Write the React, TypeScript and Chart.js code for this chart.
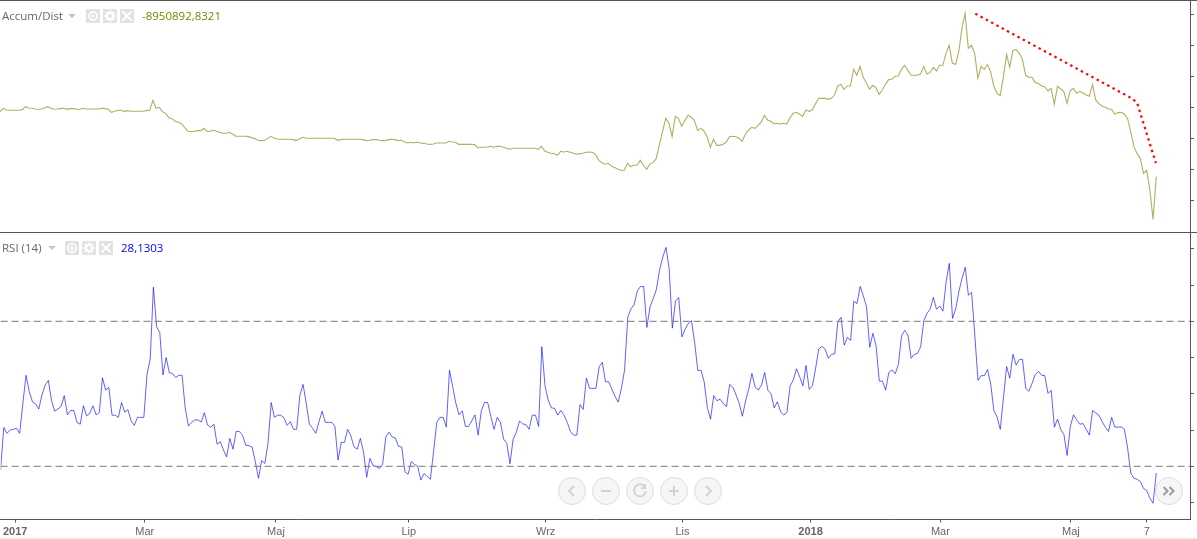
import React, { useEffect, useRef } from "react";
import { Chart, registerables } from "chart.js";

Chart.register(...registerables);

// Accumulation/Distribution, in millions
const accumDist = [
  -0.54,-0.11,-0.33,-0.37,-0.37,-0.37,-0.37,-0.28,0.10,-0.07,
  -0.11,-0.20,-0.24,-0.20,-0.07,0.10,-0.11,-0.24,-0.20,-0.15,
  -0.11,-0.24,-0.15,-0.15,-0.24,-0.24,-0.11,-0.20,-0.20,-0.20,
  -0.20,-0.20,-0.11,-0.15,-0.24,-0.63,-0.50,-0.37,-0.37,-0.50,
  -0.41,-0.50,-0.50,-0.50,-0.50,-0.50,-0.41,-0.37,0.92,-0.11,
  0.02,-0.54,-0.76,-1.32,-1.45,-1.79,-1.92,-2.14,-2.61,-3.08,
  -3.13,-3.08,-3.00,-3.00,-2.70,-3.08,-3.08,-2.96,-3.08,-3.21,
  -3.34,-3.34,-3.21,-3.43,-3.73,-3.73,-3.73,-3.73,-3.77,-3.90,
  -4.03,-4.25,-4.29,-4.25,-4.03,-3.73,-3.95,-4.08,-4.12,-4.12,
  -4.12,-4.12,-4.16,-4.29,-4.08,-3.86,-3.95,-3.99,-3.99,-3.99,
  -3.99,-3.99,-3.99,-3.99,-3.99,-3.99,-4.25,-4.16,-4.12,-4.12,
  -4.12,-4.12,-4.12,-4.12,-4.16,-4.29,-4.25,-4.16,-4.16,-4.25,
  -4.29,-4.29,-4.16,-4.12,-4.16,-4.29,
  -4.25,-4.47,-4.60,-4.51,-4.60,-4.47,-4.60,-4.64,-4.72,-4.77,
  -4.72,-4.60,-4.60,-4.60,-4.60,-4.38,-4.47,-4.51,-4.77,-4.77,
  -4.77,-4.77,-4.77,-4.81,-5.24,-5.15,-5.15,-5.11,-5.03,-5.15,
  -5.03,-5.03,-5.15,-5.28,-5.41,-5.28,-5.28,-5.28,-5.28,-5.28,
  -5.28,-5.28,-5.28,-5.41,-5.03,-5.63,-5.80,-5.93,-5.97,-6.19,
  -5.67,-5.76,-5.67,-5.80,-5.93,-6.06,-5.97,-5.93,-5.80,-5.76,
  -5.80,-6.10,-6.84,-7.14,-7.35,-7.22,-7.61,-7.78,-8.00,-8.13,
  -8.13,-7.22,-7.65,-7.48,-7.48,-6.84,-7.48,-8.00,-7.35,-7.14,
  -6.62,-4.85,-3.13,-1.41,-2.01,-3.78,-1.15,-1.41,-2.44,-1.71,
  -1.02,-1.27,-1.66,-2.96,-2.70,-3.04,-3.78,-5.15,-4.12,-4.90,
  -4.90,-4.77,-4.51,-3.78,-3.73,-3.78,-3.99,-4.38,-3.47,-2.91,
  -2.57,-2.70,-2.31,-1.88,-1.02,-1.62,-1.79,-2.14,-2.05,-2.14,
  -2.05,-2.14,-1.36,-0.76,-0.63,
  -0.89,-1.15,-0.33,-0.50,-0.33,0.45,1.18,1.18,1.18,1.05,
  1.18,1.61,2.78,2.99,2.35,2.78,2.78,4.93,4.16,5.32,
  3.90,3.21,2.35,2.86,2.56,1.70,2.26,2.99,3.60,3.64,
  4.03,4.07,4.93,5.45,4.80,4.16,4.16,4.16,4.33,5.32,
  4.33,4.50,5.19,4.72,5.45,5.45,7.00,8.04,5.71,5.58,
  7.22,10.23,12.17,7.65,8.04,7.00,3.77,5.32,4.93,5.58,
  4.63,2.78,1.83,1.53,3.90,6.87,5.19,7.35,7.52,7.00,
  6.23,4.16,3.90,3.90,3.21,3.12,2.78,2.69,2.13,2.48,
  0.41,2.73,2.39,2.05,0.54,2.17,2.48,1.83,2.09,1.87,
  1.61,1.44,2.99,0.97,0.49,0.15,0.02,-0.20,-0.24,-0.89,
  -0.67,-0.63,-0.84,-1.45,-3.13,-5.07,-5.97,-6.58,-8.52,-8.13,
  -10.67,-14.50,-8.95,
];

const rsi14 = [
  29.0,40.7,39.1,40.0,40.2,40.5,39.1,47.4,55.1,50.6,
  47.8,47.2,45.8,49.7,52.4,53.7,48.1,45.2,45.8,46.5,
  49.5,44.2,45.4,45.4,42.1,41.6,46.7,43.9,44.6,46.7,
  44.2,44.8,54.4,51.0,51.8,44.1,44.1,43.5,47.6,44.9,
  45.6,42.5,41.3,43.5,43.5,43.5,55.4,59.6,79.4,68.5,
  66.9,55.2,60.0,55.8,55.6,54.5,55.1,55.1,46.0,41.1,
  42.1,42.8,42.8,42.2,44.8,41.4,40.8,41.6,36.1,36.8,
  34.5,32.6,37.7,34.7,39.6,39.6,38.6,35.8,35.7,35.3,
  31.3,26.7,31.6,30.8,36.3,47.6,43.5,44.1,44.1,43.4,
  41.3,42.3,40.2,40.2,49.5,52.6,47.4,41.6,40.5,39.1,
  42.3,45.2,42.1,42.1,42.1,41.1,31.7,36.6,36.6,40.2,
  38.4,35.4,34.7,37.7,34.0,27.0,32.2,30.2,29.9,29.4,
  30.5,38.1,39.4,38.1,37.8,35.5,
  35.3,28.5,27.8,31.3,30.5,30.0,26.2,28.0,27.2,26.4,
  34.0,42.1,43.5,43.5,40.8,56.5,52.0,47.4,44.2,45.3,
  41.0,41.0,42.5,44.2,38.6,45.3,47.6,47.6,43.7,40.2,
  43.5,42.1,37.5,36.3,30.7,37.5,39.4,42.5,41.7,41.5,
  40.2,44.1,44.1,41.0,63.0,52.2,48.3,46.1,46.0,44.1,
  45.4,44.1,42.1,39.6,38.6,38.6,47.0,45.7,54.3,51.5,
  51.5,51.5,57.4,58.7,53.3,53.3,51.3,49.3,47.7,51.5,
  56.6,71.1,73.4,74.6,78.4,79.6,79.6,68.3,74.0,76.3,
  78.8,84.2,87.7,90.4,84.6,68.1,75.6,76.6,65.7,67.8,
  69.4,70.2,64.2,56.4,56.5,53.3,46.2,43.0,49.5,48.1,
  48.5,47.4,46.4,52.6,51.8,49.7,47.4,43.8,48.0,51.3,
  55.6,51.9,51.0,52.4,55.9,51.0,50.0,46.1,47.8,45.1,
  44.1,44.9,52.2,53.8,56.9,
  54.7,52.2,57.8,51.2,52.2,57.0,62.4,63.1,62.3,59.8,
  60.9,61.0,69.9,71.1,63.4,65.6,64.7,75.5,74.9,79.6,
  77.0,74.0,62.8,66.7,63.2,53.5,53.5,51.0,55.9,56.6,
  55.5,58.1,66.0,67.5,66.2,59.8,60.9,61.1,63.0,70.2,
  72.2,73.4,76.6,73.3,74.2,72.8,80.9,86.0,70.8,73.4,
  78.2,81.9,84.9,77.2,78.0,66.2,53.7,55.0,55.0,56.7,
  52.7,45.4,43.6,40.2,48.8,57.5,54.3,60.9,57.9,59.5,
  59.5,51.5,50.7,52.9,55.3,56.2,55.1,55.0,50.1,51.0,
  40.8,43.0,40.2,38.8,33.0,40.9,44.2,42.8,41.6,41.8,
  40.2,38.6,45.4,44.7,44.1,42.3,40.8,39.6,43.5,40.8,
  40.8,40.9,40.2,35.0,28.1,26.7,26.4,25.8,23.9,23.3,
  21.2,19.8,28.13,
];

// Hand-drawn dotted trend line on the Accum/Dist pane (session index, millions)
const trendIndex = [306.2, 355.4, 357.0, 362.9];
const trendValue = [12.13, 1.16, 0.58, -7.2];

// RSI overbought / oversold levels
const rsiLevels = [70, 30];

// Month ticks on the time axis (session index, label)
const monthTickIndex = [4.6, 45.3, 86.5, 128.2, 171.2, 214.2, 254.4, 295.2, 336.2, 360.0];
const monthTickLabels = ["2017", "Mar", "Maj", "Lip", "Wrz", "Lis", "2018", "Mar", "Maj", "7"];

const adTicks = [12, 8, 4, 0, -4, -8, -12];
const rsiTicks = [90, 80, 70, 60, 50, 40, 30, 20];

const AXIS = "#555555";
const X_MAX = 373.6;

function points(values: number[]) {
  return values.map((v, i) => ({ x: i, y: v }));
}

function yAxis(min: number, max: number, tickValues: number[]) {
  return {
    position: "right" as const,
    min,
    max,
    border: { display: true, color: AXIS, width: 1 },
    grid: { display: true, drawOnChartArea: false, drawTicks: true, tickLength: 4, color: AXIS },
    ticks: { display: false },
    afterBuildTicks: (s: any) => {
      s.ticks = tickValues.map((value) => ({ value }));
    },
    afterFit: (s: any) => {
      s.width = 7;
    },
  };
}

function baseOptions(scales: any) {
  return {
    responsive: false,
    animation: false as const,
    devicePixelRatio: 1,
    events: [] as any[],
    layout: { padding: 0, autoPadding: false },
    plugins: { legend: { display: false }, tooltip: { enabled: false }, title: { display: false } },
    elements: { point: { radius: 0 }, line: { tension: 0 } },
    scales,
  };
}

function AccumPane() {
  const ref = useRef<HTMLCanvasElement>(null);
  useEffect(() => {
    const chart = new Chart(ref.current!, {
      type: "line",
      data: {
        datasets: [
          {
            data: points(accumDist),
            borderColor: "rgba(128,128,0,0.62)",
            borderWidth: 1.1,
            pointRadius: 0,
          },
          {
            data: trendIndex.map((x, i) => ({ x, y: trendValue[i] })),
            borderColor: "#ff0000",
            borderWidth: 2.2,
            borderDash: [2.4, 3.6],
            pointRadius: 0,
          },
        ],
      },
      options: baseOptions({
        x: { type: "linear", display: false, min: 0, max: X_MAX },
        y: yAxis(-16.11, 13.9, adTicks),
      }) as any,
    });
    return () => chart.destroy();
  }, []);
  return (
    <canvas
      ref={ref}
      width={1197}
      height={232}
      style={{ position: "absolute", left: 0, top: 0, width: 1197, height: 232 }}
    />
  );
}

function RsiPane() {
  const ref = useRef<HTMLCanvasElement>(null);
  useEffect(() => {
    const chart = new Chart(ref.current!, {
      type: "line",
      data: {
        datasets: [
          ...rsiLevels.map((level) => ({
            data: [
              { x: 0, y: level },
              { x: X_MAX, y: level },
            ],
            borderColor: "#777777",
            borderWidth: 1,
            borderDash: [7, 4],
            pointRadius: 0,
          })),
          {
            data: points(rsi14),
            borderColor: "rgba(0,0,255,0.62)",
            borderWidth: 1,
            pointRadius: 0,
          },
        ],
      },
      options: baseOptions({
        x: {
          type: "linear",
          min: 0,
          max: X_MAX,
          border: { display: true, color: AXIS, width: 1 },
          grid: { display: true, drawOnChartArea: false, drawTicks: true, tickLength: 3, color: AXIS },
          ticks: {
            autoSkip: false,
            maxRotation: 0,
            minRotation: 0,
            padding: 3,
            color: "#666666",
            font: (c: any) => {
              const bold = c.tick && /^\d{4}$/.test(String(c.tick.label));
              return { family: "'Liberation Sans', Arial, sans-serif", size: 11, weight: bold ? "bold" : "normal" };
            },
          },
          afterBuildTicks: (s: any) => {
            s.ticks = monthTickIndex.map((value, i) => ({ value, label: monthTickLabels[i] }));
          },
          afterTickToLabelConversion: (s: any) => {
            s.ticks.forEach((t: any, i: number) => {
              t.label = monthTickLabels[i];
            });
          },
          afterFit: (s: any) => {
            s.height = 17.5;
          },
        },
        y: yAxis(15.32, 94.36, rsiTicks),
      }) as any,
    });
    return () => chart.destroy();
  }, []);
  return (
    <canvas
      ref={ref}
      width={1197}
      height={304}
      style={{ position: "absolute", left: 0, top: 233, width: 1197, height: 304 }}
    />
  );
}

function IconBox({ x, y, kind }: { x: number; y: number; kind: "eye" | "gear" | "close" }) {
  return (
    <svg
      width={14}
      height={14}
      viewBox="0 0 14 14"
      style={{ position: "absolute", left: x, top: y, background: "#e2e2e2" }}
    >
      {kind === "eye" && (
        <>
          <circle cx={7} cy={7} r={4} fill="none" stroke="#fff" strokeWidth={1.6} />
          <circle cx={7} cy={7} r={1.5} fill="#fff" />
        </>
      )}
      {kind === "gear" && (
        <>
          <circle cx={7} cy={7} r={3} fill="none" stroke="#fff" strokeWidth={2} />
          <path
            d="M7 1.5V3.5M7 10.5V12.5M1.5 7H3.5M10.5 7H12.5M3.1 3.1L4.5 4.5M9.5 9.5L10.9 10.9M3.1 10.9L4.5 9.5M9.5 4.5L10.9 3.1"
            stroke="#fff"
            strokeWidth={1.8}
          />
        </>
      )}
      {kind === "close" && <path d="M2.5 2.5L11.5 11.5M11.5 2.5L2.5 11.5" stroke="#fff" strokeWidth={1.8} />}
    </svg>
  );
}

function Caret({ x, y }: { x: number; y: number }) {
  return (
    <svg width={8} height={4} style={{ position: "absolute", left: x, top: y }}>
      <path d="M0 0H8L4 4Z" fill="#c4c4c4" />
    </svg>
  );
}

const FONT = "'Open Sans', 'Noto Sans', sans-serif";

function Label({ x, y, color, text }: { x: number; y: number; color: string; text: string }) {
  return (
    <div
      style={{
        position: "absolute",
        left: x,
        top: y,
        color,
        font: `11.5px/16px ${FONT}`,
        whiteSpace: "nowrap",
      }}
    >
      {text}
    </div>
  );
}

function NavButton({ cx, glyph }: { cx: number; glyph: string }) {
  const dark = glyph === "next";
  return (
    <svg width={30} height={30} viewBox="0 0 30 30" style={{ position: "absolute", left: cx - 15, top: 476 }}>
      <circle cx={15} cy={15} r={13.5} fill="#f6f6f6" stroke="#dcdcdc" />
      {glyph === "left" && <path d="M17 10L12 15L17 20" fill="none" stroke="#d4d4d4" strokeWidth={2} />}
      {glyph === "right" && <path d="M13 10L18 15L13 20" fill="none" stroke="#d4d4d4" strokeWidth={2} />}
      {glyph === "minus" && <path d="M10 15H20" stroke="#d4d4d4" strokeWidth={2} />}
      {glyph === "plus" && <path d="M10 15H20M15 10V20" stroke="#d4d4d4" strokeWidth={2} />}
      {glyph === "reset" && (
        <path d="M20 11A6 6 0 1 0 21 15M20 8V12H16" fill="none" stroke="#d4d4d4" strokeWidth={2} />
      )}
      {dark && (
        <path d="M9.5 11L13.5 15L9.5 19M15.5 11L19.5 15L15.5 19" fill="none" stroke="#a0a0a0" strokeWidth={2.2} />
      )}
    </svg>
  );
}

export default function App() {
  return (
    <div
      style={{
        position: "absolute",
        left: 0,
        top: 0,
        width: 1197,
        height: 539,
        background: "#ffffff",
        overflow: "hidden",
      }}
    >
      <AccumPane />
      <RsiPane />
      <div style={{ position: "absolute", left: 0, top: 0, width: 1197, height: 1, background: AXIS }} />
      <div style={{ position: "absolute", left: 0, top: 232, width: 1197, height: 1, background: AXIS }} />
      <div style={{ position: "absolute", left: 0, top: 537, width: 1197, height: 2, background: "#f3f3f3" }} />

      <Label x={2} y={8} color="#666666" text="Accum/Dist" />
      <Caret x={68} y={14} />
      <IconBox x={86} y={9} kind="eye" />
      <IconBox x={103} y={9} kind="gear" />
      <IconBox x={120} y={9} kind="close" />
      <Label x={142} y={8} color="#808000" text="-8950892,8321" />

      <Label x={2} y={240} color="#666666" text="RSI (14)" />
      <Caret x={48} y={246} />
      <IconBox x={65} y={241} kind="eye" />
      <IconBox x={82} y={241} kind="gear" />
      <IconBox x={99} y={241} kind="close" />
      <Label x={121} y={240} color="#0000ff" text="28,1303" />

      <NavButton cx={572} glyph="left" />
      <NavButton cx={606} glyph="minus" />
      <NavButton cx={640} glyph="reset" />
      <NavButton cx={674} glyph="plus" />
      <NavButton cx={708} glyph="right" />
      <NavButton cx={1169} glyph="next" />
    </div>
  );
}
